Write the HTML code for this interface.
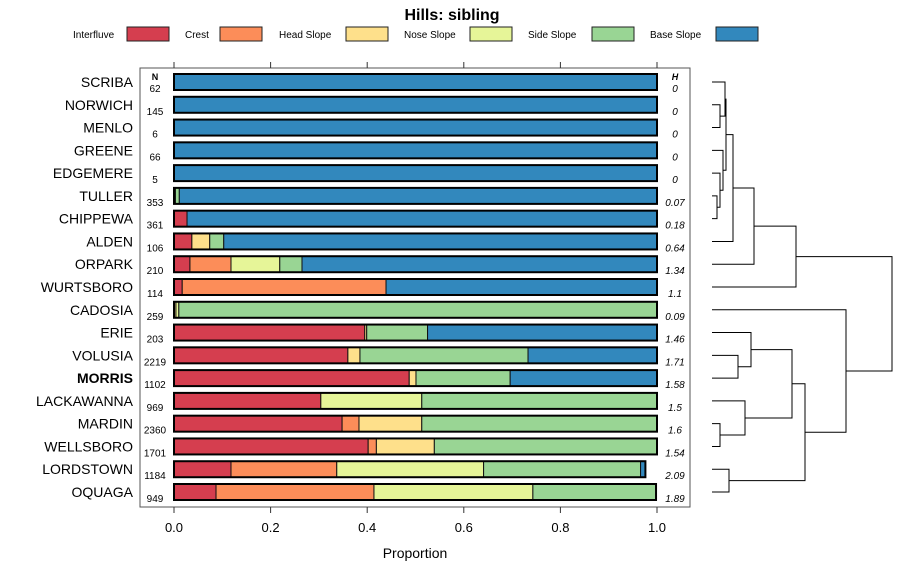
<!DOCTYPE html>
<html><head><meta charset="utf-8"><style>
body{margin:0;background:#fff;}
svg{display:block;font-family:"Liberation Sans",sans-serif;}
</style></head><body>
<svg id="chart" width="900" height="580" viewBox="0 0 900 580" xmlns="http://www.w3.org/2000/svg">
<text x="452" y="20" text-anchor="middle" font-size="16" font-weight="bold">Hills: sibling</text>
<g id="legend"></g>
<rect x="140" y="68" width="550" height="439" fill="none" stroke="#555" stroke-width="1"/>
<g id="axes"></g>
<g id="bars"></g>
<g id="dendro"></g>
<text x="415" y="558" text-anchor="middle" font-size="14">Proportion</text>
<text x="155" y="80" text-anchor="middle" font-size="9" font-weight="bold">N</text>
<text x="675" y="80" text-anchor="middle" font-size="9" font-weight="bold" font-style="italic">H</text>
</svg>
<script>
const classes = ["Interfluve","Crest","Head Slope","Nose Slope","Side Slope","Base Slope"];
const colors = ["#D53E4F","#FC8D59","#FEE08B","#E6F598","#99D594","#3288BD"];
const series = ["SCRIBA","NORWICH","MENLO","GREENE","EDGEMERE","TULLER","CHIPPEWA","ALDEN","ORPARK","WURTSBORO","CADOSIA","ERIE","VOLUSIA","MORRIS","LACKAWANNA","MARDIN","WELLSBORO","LORDSTOWN","OQUAGA"];
const nValues = [62,145,6,66,5,353,361,106,210,114,259,203,2219,1102,969,2360,1701,1184,949];
const hValues = ["0","0","0","0","0","0.07","0.18","0.64","1.34","1.1","0.09","1.46","1.71","1.58","1.5","1.6","1.54","2.09","1.89"];
const interfluve = [0,0,0,0,0,0,0.027,0.037,0.033,0.017,0,0.395,0.36,0.487,0.304,0.348,0.402,0.118,0.087];
const crest      = [0,0,0,0,0,0,0,0,0.085,0.422,0,0,0,0,0,0.035,0.017,0.219,0.327];
const headSlope  = [0,0,0,0,0,0,0,0.037,0,0,0.004,0.004,0.025,0.014,0,0.13,0.12,0,0];
const noseSlope  = [0,0,0,0,0,0.003,0,0,0.101,0,0.006,0,0,0,0.209,0,0,0.304,0.329];
const sideSlope  = [0,0,0,0,0,0.008,0,0.029,0.046,0,0.99,0.126,0.348,0.195,0.487,0.487,0.461,0.325,0.255];
const baseSlope  = [1,1,1,1,1,0.989,0.973,0.897,0.735,0.561,0,0.475,0.267,0.304,0,0,0,0.01,0];
const xTicks = [0,0.2,0.4,0.6,0.8,1.0];
const xTickLabels = ["0.0","0.2","0.4","0.6","0.8","1.0"];
// dendrogram merges: [left, right] (negative = leaf row index as -(i+1), else merge index)
const mergeLeft  = [-2,-1,-6,-5,-4,1,5,6,7,-13,-12,-16,-15,10,-18,13,-11,8];
const mergeRight = [-3,0,-7,2,3,4,-8,-9,-10,-14,9,-17,11,12,-19,14,15,16];
const mergeHeight= [8,13,5,8,11,14,21,42,84,26,39,8,33,80,17,93,134,180];

const NS="http://www.w3.org/2000/svg";
function mk(tag,attrs,parent){const e=document.createElementNS(NS,tag);for(const k in attrs)e.setAttribute(k,attrs[k]);parent.appendChild(e);return e;}
const x = v => 174 + v*483;
const y = i => 82 + i*(410/18);
const dx = h => 712 + h;
const barH = 16;

// legend
const legend=document.getElementById('legend');
const legX=[73,185,279,404,528,650], boxX=[127,220,346,470,592,716];
classes.forEach((c,i)=>{
  const t=mk('text',{x:legX[i],y:38,'font-size':10},legend);t.textContent=c;
  
  
  const r=mk('rect',{x:boxX[i],y:27,width:42,height:14,fill:colors[i],stroke:'#222','stroke-width':1},legend);
  
  
});

// axes
const axes=document.getElementById('axes');
xTicks.forEach((v,i)=>{
  const a=mk('line',{x1:x(v),x2:x(v),y1:62,y2:68,stroke:'#333'},axes);
  
  
  const b=mk('line',{x1:x(v),x2:x(v),y1:507,y2:513,stroke:'#333'},axes);
  
  
  const t=mk('text',{x:x(v),y:532,'text-anchor':'middle','font-size':13},axes);t.textContent=xTickLabels[i];
  
  
});

// bars
const bars=document.getElementById('bars');
const cols=[interfluve,crest,headSlope,noseSlope,sideSlope,baseSlope];
series.forEach((s,i)=>{
  const lab=mk('text',{x:133,y:y(i)+5,'text-anchor':'end','font-size':14,'font-weight':s==='MORRIS'?'bold':'normal'},bars);lab.textContent=s;
  
  
  const n=mk('text',{x:155,y:y(i)+10,'text-anchor':'middle','font-size':10},bars);n.textContent=nValues[i];
  
  
  const h=mk('text',{x:675,y:y(i)+10,'text-anchor':'middle','font-size':10,'font-style':'italic'},bars);h.textContent=hValues[i];
  
  
  let acc=0;
  cols.forEach((arr,k)=>{
    const v=arr[i]; if(v<=0) return;
    const r=mk('rect',{x:x(acc),y:y(i)-barH/2,width:x(acc+v)-x(acc),height:barH,fill:colors[k],stroke:'#111','stroke-width':1},bars);
    
    
    acc+=v;
  });
  const o=mk('rect',{x:x(0),y:y(i)-barH/2,width:x(acc)-x(0),height:barH,fill:'none',stroke:'#000','stroke-width':2},bars);
  
  
});

// dendrogram
const dg=document.getElementById('dendro');
const pos=[];
function nodeInfo(idx){ if(idx<0) return {y:y(-idx-1),x:dx(0)}; return pos[idx]; }
mergeHeight.forEach((hh,m)=>{
  const a=nodeInfo(mergeLeft[m]), b=nodeInfo(mergeRight[m]), mx=dx(hh);
  const p=mk('path',{d:`M${a.x},${a.y}H${mx}V${b.y}H${b.x}`,fill:'none',stroke:'#000','stroke-width':1},dg);
  
  
  pos[m]={x:mx,y:(a.y+b.y)/2};
});
</script>
</body></html>
